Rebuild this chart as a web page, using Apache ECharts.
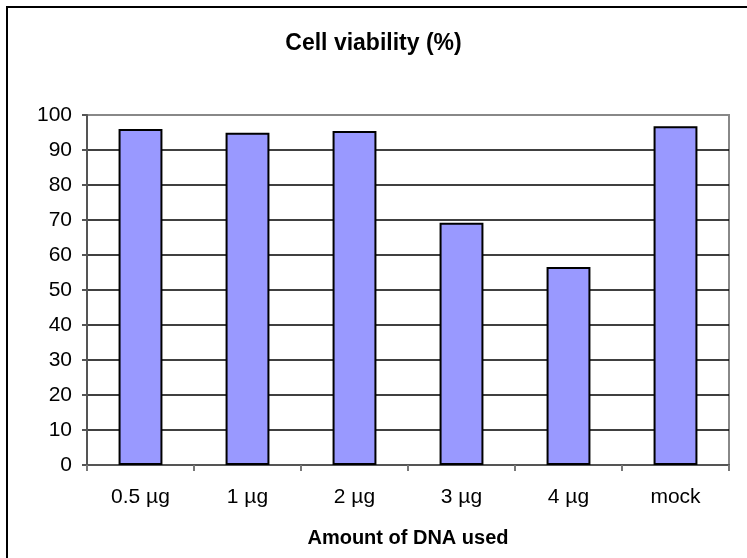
<!DOCTYPE html>
<html><head><meta charset="utf-8">
<script src="https://cdn.jsdelivr.net/npm/echarts@6/dist/echarts.min.js"></script>
<style>html,body{margin:0;padding:0;background:#fff}#c{width:747px;height:558px}</style>
</head><body><div id="c"></div>
<script>
const categories = ['0.5 µg', '1 µg', '2 µg', '3 µg', '4 µg', 'mock'];
const viability = [96, 94.9, 95.4, 69.2, 56.6, 96.8];
const yTicks = {min: 0, max: 100, interval: 10};
const titleText = 'Cell viability (%)';
const xName = 'Amount of DNA used';

const font = '"Liberation Sans", Arial, sans-serif';
const chart = echarts.init(document.getElementById('c'), null, {renderer: 'canvas'});
const splitColors = [];
for (let i = 0; i < 10; i++) splitColors.push('#000');
splitColors.push('#888');
chart.setOption({
  animation: false,
  backgroundColor: '#fff',
  graphic: [{type: 'rect', shape: {x: 7, y: 7, width: 760, height: 570}, style: {fill: 'none', stroke: '#000', lineWidth: 2}, silent: true}],
  title: {text: titleText, left: 'center', top: 27, textStyle: {fontFamily: font, fontSize: 23, fontWeight: 'bold', color: '#000'}},
  grid: {left: 87, right: 18, top: 115, bottom: 93, show: true, borderColor: '#888', borderWidth: 2, backgroundColor: 'transparent'},
  xAxis: {
    type: 'category', data: categories, boundaryGap: true,
    axisLine: {lineStyle: {color: '#555', width: 2}},
    axisTick: {show: true, alignWithLabel: false, length: 6, lineStyle: {color: '#777', width: 2}},
    axisLabel: {fontFamily: font, fontSize: 21, color: '#000', margin: 22},
    name: xName, nameLocation: 'middle', nameGap: 63,
    nameTextStyle: {fontFamily: font, fontSize: 20, fontWeight: 'bold', color: '#000'}
  },
  yAxis: {
    type: 'value', min: yTicks.min, max: yTicks.max, interval: yTicks.interval,
    axisLine: {show: true, lineStyle: {color: '#555', width: 2}},
    axisTick: {show: true, length: 5, lineStyle: {color: '#555', width: 2}},
    axisLabel: {fontFamily: font, fontSize: 21, color: '#000', margin: 15},
    splitLine: {show: true, lineStyle: {color: splitColors, width: 1.5}}
  },
  series: [{
    type: 'bar', data: viability, barWidth: '41%',
    itemStyle: {color: '#9999FF', borderColor: '#000', borderWidth: 2}
  }]
});
</script></body></html>
